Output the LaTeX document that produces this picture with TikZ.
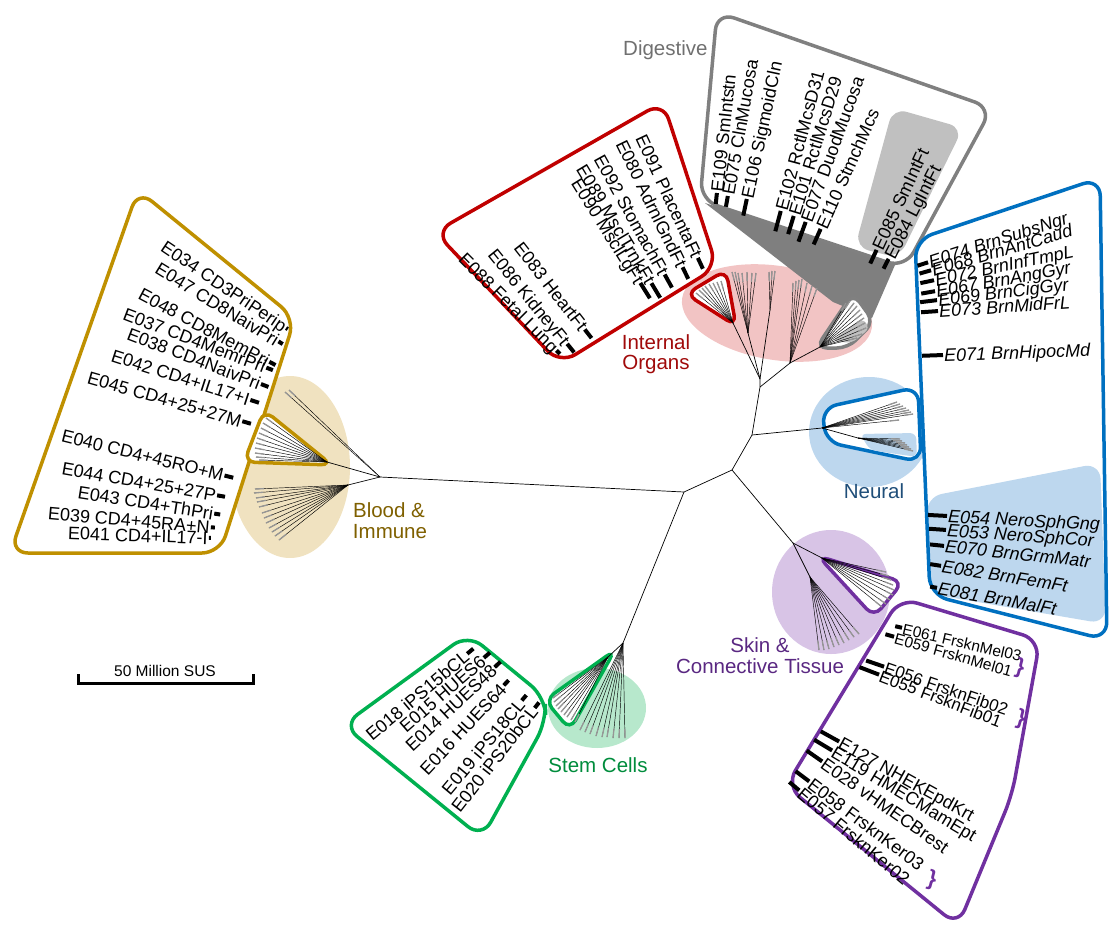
\documentclass[tikz,border=0pt]{standalone}
\usepackage{fontspec}
\setmainfont{Liberation Sans}
\usetikzlibrary{calc}
\definecolor{goldc}{RGB}{191,144,0}
\definecolor{goldtxt}{RGB}{127,96,0}
\definecolor{tanf}{RGB}{240,226,192}
\definecolor{redc}{RGB}{192,0,0}
\definecolor{redtxt}{RGB}{160,10,10}
\definecolor{pinkf}{RGB}{242,196,196}
\definecolor{grayc}{RGB}{128,128,128}
\definecolor{graytxt}{RGB}{112,112,112}
\definecolor{lgrayf}{RGB}{192,192,192}
\definecolor{dgrayf}{RGB}{127,127,127}
\definecolor{bluec}{RGB}{0,112,192}
\definecolor{bluetxt}{RGB}{31,78,121}
\definecolor{lbluef}{RGB}{189,215,238}
\definecolor{greenc}{RGB}{0,176,80}
\definecolor{greentxt}{RGB}{0,140,60}
\definecolor{lgreenf}{RGB}{183,232,204}
\definecolor{purplec}{RGB}{112,48,160}
\definecolor{purpletxt}{RGB}{90,40,130}
\definecolor{lavf}{RGB}{216,196,230}
\definecolor{leafgray}{RGB}{150,150,150}
\tikzset{
  lab/.style={font=\fontsize{18}{18}\selectfont, inner sep=0pt, text height=13pt, text depth=0pt, anchor=west},
  grp/.style={font=\fontsize{20.5}{21}\selectfont, inner sep=0pt, anchor=base},
  box/.style={line width=3.5pt, rounded corners=18pt},
  sbox/.style={line width=3.5pt, rounded corners=11pt, fill=white},
  tk/.style={line width=4pt},
  br/.style={line width=0.7pt},
  leaf/.style={line width=0.45pt},
  leaftx/.style={line width=1.3pt, leafgray},
}
\newcommand\LA[6][]{\node[lab,rotate=#4,#1] (#2) at (#3) {#6};\draw[tk] ($(#2.east)!-1pt!(#2.west)$) -- ($(#2.east)!-#5pt!(#2.west)$);}
\newcommand\LB[6][]{\node[lab,rotate=#4,#1] (#2) at (#3) {#6};\draw[tk] ($(#2.west)!-1pt!(#2.east)$) -- ($(#2.west)!-#5pt!(#2.east)$);}
\newcommand\fan[2]{\foreach \x/\y in {#2}{\draw[leaf] (#1) -- (\x,\y);\draw[leaftx] ($(\x,\y)!9pt!(#1)$) -- (\x,\y);}}
\begin{document}
\begin{tikzpicture}[x=1pt,y=-1pt]
\useasboundingbox (0,0) rectangle (1109,927);
% ---------- background ellipses
\fill[tanf] (290,467) ellipse [x radius=60, y radius=91];
\fill[pinkf, rotate around={-9:(777,313)}] (777,313) ellipse [x radius=96, y radius=47];
\fill[lbluef] (869,432) ellipse [x radius=60, y radius=55];
\fill[lgreenf] (597,708) ellipse [x radius=49, y radius=40];
\fill[lavf] (831,592) ellipse [x radius=59, y radius=62];
% ---------- digestive funnel
\fill[dgrayf] (705,203) -- (895,265) -- (872,318) -- (833,302) -- cycle;
% ---------- big boxes
\draw[box, draw=goldc, fill=white] (138,190) -- (295,318) -- (220,553) -- (10,553) -- cycle;
\draw[box, draw=redc, fill=white] (663,102) -- (717,267) -- (560,364) -- (435,232) -- cycle;
\fill[white, rounded corners=18pt] (717,12) -- (992,108) -- (905,268) -- (700,200) -- cycle;
\fill[lgrayf, rounded corners=14pt] (893,108) -- (963,128) -- (899,258) -- (855,247) -- cycle;
\draw[box, draw=grayc] (717,12) -- (992,108) -- (905,268) -- (700,200) -- cycle;
\fill[white, rounded corners=18pt] (915,240) -- (1100,178) -- (1107,640) -- (930,595) -- cycle;
\fill[lbluef, rounded corners=16pt] (926,497) -- (1100,463) -- (1106,624) -- (931,594) -- cycle;
\draw[box, draw=bluec] (915,240) -- (1100,178) -- (1107,640) -- (930,595) -- cycle;
\draw[box, draw=purplec, fill=white] (900,598) -- (1040,640) -- (1012,795) -- (958,926) -- (786,786) -- cycle;
\draw[box, draw=greenc, fill=white] (468,634) -- (545,697) -- (546,722) -- (482,838) -- (343,725) -- cycle;
% ---------- small boxes at the tree
\draw[sbox, draw=goldc] (264,410) -- (244,462) -- (332,465) -- cycle;
\draw[sbox, draw=redc] (686,294) -- (726,270) -- (736,326) -- cycle;
\draw[sbox, draw=grayc] (816,348) -- (853,293) -- (874,322) -- (848,348) -- cycle;
\fill[lgrayf, rounded corners=6pt] (832,341) -- (862,318) -- (870,328) -- (852,343) -- cycle;
\draw[sbox, draw=bluec, rounded corners=15pt] (822,408) -- (918,387) -- (921,462) -- (826,442) -- cycle;
\fill[lbluef, rounded corners=6pt] (860,434) -- (916,433) -- (917,457) -- (870,450) -- cycle;
\draw[sbox, draw=greenc] (615,650) -- (545,700) -- (570,730) -- cycle;
\draw[sbox, draw=purplec] (818,556) -- (903,582) -- (874,617) -- cycle;
% ---------- tree
\coordinate (R) at (684,492);
\coordinate (N2) at (732,470);
\coordinate (N3) at (752,435);
\coordinate (B) at (380,477);
\coordinate (Bs) at (327,462);
\coordinate (Bl) at (348,485);
\coordinate (S) at (623,643);
\coordinate (Ss) at (608,657);
\coordinate (N4a) at (760,387);
\coordinate (I) at (760,379);
\coordinate (Rt) at (733,323);
\coordinate (H1) at (748,333);
\coordinate (H2) at (770,310);
\coordinate (H3) at (790,363);
\coordinate (G) at (820,347);
\coordinate (Nn) at (822,428);
\coordinate (Nb) at (858,438);
\coordinate (K) at (793,543);
\coordinate (Ks) at (822,558);
\coordinate (Kd) at (810,577);
\draw[br] (B) -- (R) -- (N2) -- (N3) -- (N4a) -- (I);
\draw[br] (R) -- (S) -- (Ss);
\draw[br] (B) -- (Bs); \draw[br] (B) -- (Bl);
\draw[br] (N2) -- (K) -- (Ks); \draw[br] (K) -- (Kd);
\draw[br] (N3) -- (Nn) -- (Nb);
\draw[br] (N4a) -- (H3) -- (G);
\draw[br] (I) -- (Rt); \draw[br] (I) -- (H1); \draw[br] (I) -- (H2);
\fan{B}{285/392, 289/390}
\fan{Bs}{266/418, 263/423, 261/428, 259/433, 257/438, 256/443, 255/448, 255/453, 256/457, 259/460}
\fan{Bl}{255/489, 254/493, 256/498, 257/502, 259/507, 262/513, 264/518, 266/523, 269/528, 272/532, 275/536, 279/540}
\fan{Ss}{553/698, 554/702, 556/706, 558/709, 561/712, 564/715, 567/717, 571/720, 575/722}
\fan{S}{580/730, 585/732, 590/734, 596/736, 602/737, 607/737, 613/738, 619/738, 625/738}
\fan{Rt}{696/293, 699/290, 702/288, 705/286, 709/284, 713/283, 717/282, 721/281}
\fan{H1}{732/272, 735/272, 738/273, 742/273, 747/272, 752/273, 756/273}
\fan{H2}{769/272, 772/271, 775/271}
\fan{H3}{793/283, 796/281, 799/280, 802/279, 807/283, 812/286, 817/288}
\fan{G}{846/303, 850/301, 854/303, 857/306, 860/310, 862/314, 864/318, 865/323, 866/328, 862/334, 857/338}
\fan{Nn}{897/402, 900/404, 903/406, 906/408, 909/410, 911/412, 913/414, 899/420}
\fan{Nb}{900/439, 902/441, 905/443, 907/445, 909/447, 911/449, 913/451}
\fan{Ks}{886/572, 889/576, 891/580, 893/585, 894/590, 893/595, 890/600, 886/604, 882/607}
\fan{Kd}{819/650, 824/650, 829/649, 834/647, 839/645, 844/643, 849/640, 854/637, 859/634}
% ---------- blood labels
\LA{b1}{163,245}{-34}{3}{E034 CD3PriPerip}
\LA{b2}{157,267}{-31.5}{6}{E047 CD8NaivPri}
\LA{b3}{140,293}{-28}{8}{E048 CD8MemPri}
\LA{b4}{124,313}{-21}{8}{E037 CD4MemrPri}
\LA{b5}{128,333}{-21}{9}{E038 CD4NaivPri}
\LA{b6}{112,355}{-18}{10}{E042 CD4+IL17+I}
\LA{b7}{88,377}{-16}{10}{E045 CD4+25+27M}
\LA{b8}{62,435}{-14}{10}{E040 CD4+45RO+M}
\LA{b9}{62,468}{-10}{9}{E044 CD4+25+27P}
\LA{b10}{78,492}{-9}{7}{E043 CD4+ThPri}
\LA{b11}{48,513}{-5}{5}{E039 CD4+45RA+N}
\LA{b12}{68,533}{-2}{3}{E041 CD4+IL17-I}
% ---------- internal organ labels
\LA{i1}{641,136}{-65}{13}{E091 PlacentaFt}
\LA{i2}{621,141}{-64}{14}{E080 AdrnlGndFt}
\LA{i3}{599,156}{-61}{16}{E092 StomachFt}
\LA{i4}{581,166}{-59}{18}{E089 MsclTrnkFt}
\LA{i5}{576,180}{-58}{19}{E090 MsclLgFt}
\LA{i6}{518,244}{-52}{12}{E083 HeartFt}
\LA{i7}{492,251}{-51}{12}{E086 KidneyFt}
\LA{i8}{462,256}{-45}{6}{E088 Fetal Lung}
% ---------- digestive labels
\LB{d1}{717,192}{84}{12}{E109 SmIntstn}
\LB{d2}{728,195}{80}{12}{E075 ClnMucosa}
\LB{d3}{747,198}{78}{18}{E106 SigmoidCln}
\LB{d4}{781,210}{75}{22}{E102 RctlMcsD31}
\LB{d5}{794,215}{73}{20}{E101 RctlMcsD29}
\LB{d6}{806,221}{70}{22}{E077 DuodMucosa}
\LB{d7}{821,228}{66}{18}{E110 StmchMcs}
\LB{d8}{877,249}{65}{16}{E085 SmIntFt}
\LB{d9}{889,258}{63}{12}{E084 LgIntFt}
% ---------- neural labels
\tikzset{nfont/.style={font=\fontsize{18}{18}\selectfont\itshape}}
\LB[nfont]{n1}{929,262}{18}{12}{E074 BrnSubsNgr}
\LB[nfont]{n2}{932,270}{16}{13}{E068 BrnAntCaud}
\LB[nfont]{n3}{935,280}{12}{15}{E072 BrnInfTmpL}
\LB[nfont]{n4}{936,291}{10}{15}{E067 BrnAngGyr}
\LB[nfont]{n5}{938,300}{7}{18}{E069 BrnCigGyr}
\LB[nfont]{n6}{939,311}{4}{18}{E073 BrnMidFrL}
\LB[nfont]{n7}{944,355}{2}{22}{E071 BrnHipocMd}
\LB[nfont]{n8}{948,516}{-3}{20}{E054 NeroSphGng}
\LB[nfont]{n9}{947,530}{-4}{18}{E053 NeroSphCor}
\LB[nfont]{n10}{945,546}{-6}{15}{E070 BrnGrmMatr}
\LB[nfont]{n11}{942,566}{-9}{12}{E082 BrnFemFt}
\LB[nfont]{n12}{938,588}{-10}{8}{E081 BrnMalFt}
% ---------- skin labels
\tikzset{kfont/.style={font=\fontsize{15.5}{16}\selectfont}, kfontb/.style={font=\fontsize{17}{17}\selectfont}}
\LB[kfont]{k1}{903,628}{-13}{8}{E061 FrsknMel03}
\LB[kfont]{k2}{895,637}{-16}{10}{E059 FrsknMel01}
\LB[kfontb]{k3}{885,667}{-19}{20}{E056 FrsknFib02}
\LB[kfontb]{k4}{880,675}{-21}{22}{E055 FrsknFib01}
\LB{k5}{840,742}{-29}{22}{E127 NHEKEpdKrt}
\LB{k6}{833,751}{-31}{22}{E119 HMECMamEpt}
\LB{k7}{823,762}{-35}{20}{E028 vHMECBrest}
\LB{k8}{810,782}{-37}{18}{E058 FrsknKer03}
\LB{k9}{800,791}{-40}{14}{E057 FrsknKer02}
\tikzset{brc/.style={font=\fontsize{22}{22}\selectfont\bfseries, text=purplec, inner sep=0pt, rotate=-15}}
\node[brc] (br1) at (1020,668) {\}};
\node[brc] (br2) at (1021,719) {\}};
\node[brc] (br3) at (932,880) {\}};
% ---------- stem labels
\LA{s1}{368,737}{40}{9}{E018 iPS15bCL}
\LA{s2}{402,729}{41}{9}{E015 HUES6}
\LA{s3}{408,748}{43}{9}{E014 HUES48}
\LA{s4}{423,772}{47}{8}{E016 HUES64}
\LA{s5}{445,792}{50}{8}{E019 iPS18CL}
\LA{s6}{455,810}{52}{8}{E020 iPS20bCL}
% ---------- group labels
\node[grp, anchor=base west, text=graytxt] (gdig) at (623,55) {Digestive};
\node[grp, text=redtxt] (gint1) at (656,349) {Internal};
\node[grp, text=redtxt] (gint2) at (656,369) {Organs};
\node[grp, text=goldtxt] (gbl1) at (389,517) {Blood \&};
\node[grp, text=goldtxt] (gbl2) at (390,538) {Immune};
\node[grp, text=bluetxt] (gneu) at (874,498) {Neural};
\node[grp, text=greentxt] (gstem) at (598,772) {Stem Cells};
\node[grp, text=purpletxt] (gsk1) at (760,652) {Skin \&};
\node[grp, text=purpletxt] (gsk2) at (760,673) {Connective Tissue};
% ---------- scale bar
\node[font=\fontsize{15.5}{16}\selectfont, inner sep=0pt, anchor=base] (sbt) at (165,676) {50 Million SUS};
\coordinate (sbl) at (78,683);
\coordinate (sbr) at (253,683);
\draw[line width=3pt] ($(sbl)+(0,-9)$) -- (sbl) -- (sbr) -- ($(sbr)+(0,-9)$);
\end{tikzpicture}
\end{document}
